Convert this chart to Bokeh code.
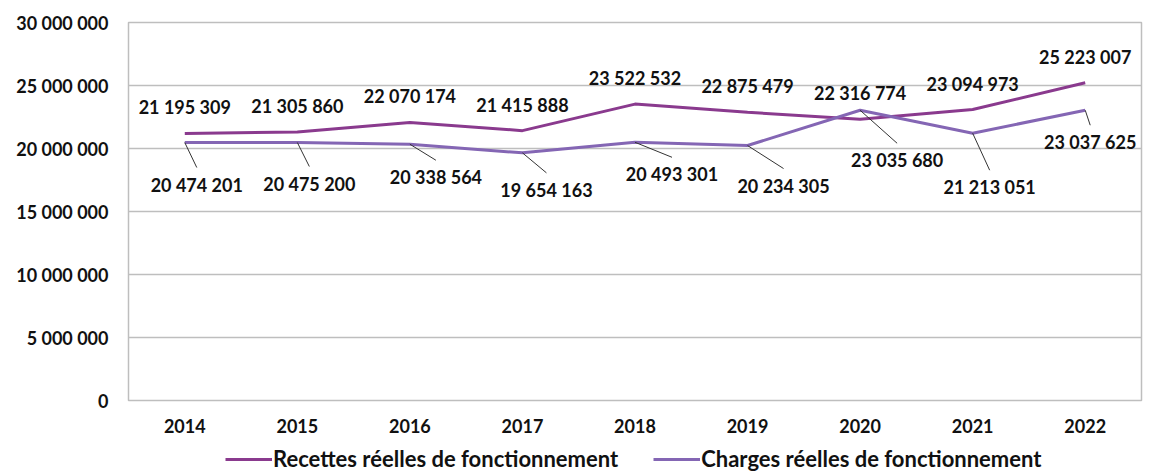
from bokeh.plotting import figure
from bokeh.layouts import column
from bokeh.models import (ColumnDataSource, LabelSet, Range1d, FixedTicker, Legend, LegendItem)
from bokeh.core.properties import value
from bokeh.embed import file_html
from bokeh.resources import INLINE

years = ["2014", "2015", "2016", "2017", "2018", "2019", "2020", "2021", "2022"]
recettes = [21195309, 21305860, 22070174, 21415888, 23522532, 22875479, 22316774, 23094973, 25223007]
charges = [20474201, 20475200, 20338564, 19654163, 20493301, 20234305, 23035680, 21213051, 23037625]
ytick_values = [0, 5000000, 10000000, 15000000, 20000000, 25000000, 30000000]
ytick_labels = ["0", "5 000 000", "10 000 000", "15 000 000", "20 000 000", "25 000 000", "30 000 000"]
series_names = ["Recettes réelles de fonctionnement", "Charges réelles de fonctionnement"]

# label placement (screen pixel offsets, styling only)
charges_dx = [12, 12, 26, 24, 37, 36, 37, 17, 5]
charges_dy = [42, 41, 33, 37, 32, 40, 50, 54, 32]

FONT = "Lato"
C_REC = "#8A3A8E"
C_CHA = "#8466B4"
GRID = "#BEBEBE"
TXT = "#111111"
FS = "18px"

FW, FH = 1013, 378
YMAX = 30000000
px_x = FW / len(years)        # pixels per category
px_y = FH / YMAX              # pixels per unit value


def fmt(v):
    return f"{v:,}".replace(",", " ")


xs = list(range(len(years)))

p = figure(width=1153, height=446, output_backend="svg", toolbar_location=None,
           x_range=Range1d(-0.5, len(years) - 0.5), y_range=Range1d(0, YMAX),
           min_border_left=128, min_border_right=12, min_border_top=22, min_border_bottom=46)
p.background_fill_color = "white"
p.border_fill_color = "white"
p.outline_line_color = GRID
p.outline_line_width = 1.5

p.xgrid.grid_line_color = None
p.ygrid.grid_line_color = GRID
p.ygrid.grid_line_width = 1.5

p.yaxis.ticker = FixedTicker(ticks=ytick_values)
p.yaxis.major_label_overrides = {v: l for v, l in zip(ytick_values, ytick_labels)}
p.xaxis.ticker = FixedTicker(ticks=xs)
p.xaxis.major_label_overrides = {i: y for i, y in enumerate(years)}
for ax in (p.xaxis, p.yaxis):
    ax.axis_line_color = None
    ax.major_tick_line_color = None
    ax.minor_tick_line_color = None
    ax.major_tick_out = 0
    ax.major_tick_in = 0
    ax.major_label_text_font = FONT
    ax.major_label_text_font_style = "bold"
    ax.major_label_text_font_size = FS
    ax.major_label_text_color = TXT
p.yaxis.major_label_standoff = 20
p.xaxis.major_label_standoff = 18

r1 = p.line(xs, recettes, line_color=C_REC, line_width=3)
r2 = p.line(xs, charges, line_color=C_CHA, line_width=3)

# leader lines for charges labels
lead_x1 = [x + dx / px_x for x, dx in zip(xs, charges_dx)]
lead_y1 = [v - (dy - 17) / px_y for v, dy in zip(charges, charges_dy)]
p.segment(x0=xs, y0=charges, x1=lead_x1, y1=lead_y1, line_color="#333333", line_width=1)

src_r = ColumnDataSource(dict(x=xs, y=recettes, t=[fmt(v) for v in recettes]))
src_c = ColumnDataSource(dict(x=xs, y=charges, t=[fmt(v) for v in charges],
                              dx=charges_dx, dy=[-d for d in charges_dy]))

lab_r = LabelSet(x="x", y="y", text="t", source=src_r, x_offset=0, y_offset=26,
                 text_align="center", text_baseline="middle", text_font=value(FONT),
                 text_font_style="bold", text_font_size=FS, text_color=TXT)
lab_c = LabelSet(x="x", y="y", text="t", source=src_c, x_offset="dx", y_offset="dy",
                 text_align="center", text_baseline="middle", text_font=value(FONT),
                 text_font_style="bold", text_font_size=FS, text_color=TXT)
p.add_layout(lab_r)
p.add_layout(lab_c)

# legend strip below the chart (series drawn out of view, only their legend glyphs show)
pl = figure(width=1153, height=26, output_backend="svg", toolbar_location=None,
            x_range=Range1d(-2, -1), y_range=Range1d(-2, -1),
            x_axis_type=None, y_axis_type=None, min_border=0)
pl.outline_line_color = None
pl.grid.grid_line_color = None
lr1 = pl.line(xs, recettes, line_color=C_REC, line_width=3)
lr2 = pl.line(xs, charges, line_color=C_CHA, line_width=3)
legend = Legend(items=[LegendItem(label=series_names[0], renderers=[lr1]),
                       LegendItem(label=series_names[1], renderers=[lr2])],
                orientation="horizontal", location=(97, 0),
                label_text_font=FONT, label_text_font_style="bold", label_text_font_size="22px",
                label_text_color=TXT, glyph_width=47, label_standoff=1, spacing=35,
                label_height=22, glyph_height=22,
                border_line_color=None, background_fill_alpha=0, padding=1, margin=0)
pl.add_layout(legend)

open("out.html", "w").write(file_html(column(p, pl, spacing=0), INLINE))
